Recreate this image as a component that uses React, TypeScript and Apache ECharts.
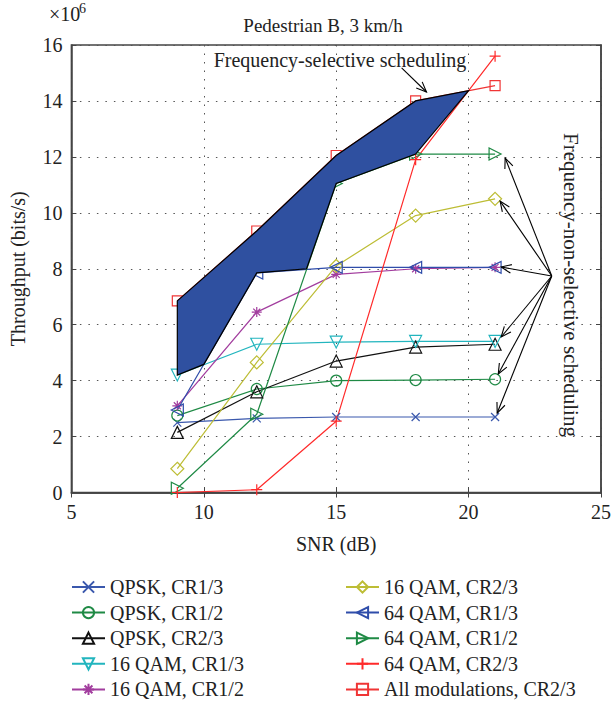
import React, { useEffect, useRef } from "react";
import * as echarts from "echarts";

// ---- data ----
const snr = [9, 12, 15, 18, 21];
const xTicks = [5, 10, 15, 20, 25];
const yTicks = [0, 2, 4, 6, 8, 10, 12, 14, 16];

const qpsk13 = [2.5, 2.65, 2.7, 2.7, 2.7];
const qpsk12 = [2.75, 3.7, 4.0, 4.02, 4.05];
const qpsk23 = [2.15, 3.6, 4.7, 5.2, 5.3];
const qam16r13 = [4.2, 5.3, 5.38, 5.4, 5.4];
const qam16r12 = [3.1, 6.45, 7.8, 8.0, 8.05];
const qam16r23 = [0.85, 4.65, 8.1, 9.9, 10.5];
const qam64r13 = [2.95, 7.85, 8.05, 8.05, 8.05];
const qam64r12 = [0.15, 2.8, 11.05, 12.1, 12.1];
const qam64r23 = [0.0, 0.1, 2.55, 11.9, 15.6];
const allMod23 = [6.85, 9.35, 12.05, 14.0, 14.55];

// filled region (frequency-selective gain) vertices
const regionX = [9, 12, 15, 18, 20, 18, 15, 13.88, 12, 10, 9];
const regionY = [6.85, 9.35, 12.05, 14.0, 14.37, 12.1, 11.05, 8.0, 7.85, 4.58, 4.2];

// annotation arrows: from -> to
const arrowFromX = [17.47, 23.14, 23.14, 23.14, 23.14, 23.14, 23.14];
const arrowFromY = [15.18, 7.74, 7.74, 7.74, 7.74, 7.74, 7.74];
const arrowToX = [18.41, 21.38, 21.19, 21.23, 21.23, 21.12, 21.08];
const arrowToY = [14.32, 11.96, 10.42, 8.06, 5.56, 4.24, 2.84];

const FONT = '"Liberation Serif", "DejaVu Serif", serif';
const TXT = "#222";

const SYM_X = "path://M0,0 L10,10 M10,0 L0,10";
const SYM_PLUS = "path://M5,0 L5,10 M0,5 L10,5";
const SYM_STAR = "path://M5,0 L5,10 M0,5 L10,5 M1.5,1.5 L8.5,8.5 M8.5,1.5 L1.5,8.5";
const SYM_UP = "path://M5,0 L10,9 L0,9 Z";
const SYM_DOWN = "path://M0,0 L10,0 L5,9 Z";
const SYM_LEFT = "path://M0,5 L9,0 L9,10 Z";
const SYM_RIGHT = "path://M9,5 L0,0 L0,10 Z";

const seriesDefs = [
  { name: "QPSK, CR1/3", data: qpsk13, color: "#3A58AD", symbol: SYM_X, size: 8 },
  { name: "QPSK, CR1/2", data: qpsk12, color: "#1F8A45", symbol: "circle", size: 11 },
  { name: "QPSK, CR2/3", data: qpsk23, color: "#111111", symbol: SYM_UP, size: 12 },
  { name: "16 QAM, CR1/3", data: qam16r13, color: "#22B5BE", symbol: SYM_DOWN, size: 12 },
  { name: "16 QAM, CR1/2", data: qam16r12, color: "#A23D9E", symbol: SYM_STAR, size: 10 },
  { name: "16 QAM, CR2/3", data: qam16r23, color: "#BDBD35", symbol: "diamond", size: 13 },
  { name: "64 QAM, CR1/3", data: qam64r13, color: "#2F4DAA", symbol: SYM_LEFT, size: 12 },
  { name: "64 QAM, CR1/2", data: qam64r12, color: "#1F8A45", symbol: SYM_RIGHT, size: 12 },
  { name: "64 QAM, CR2/3", data: qam64r23, color: "#FF2A2A", symbol: SYM_PLUS, size: 11 },
  { name: "All modulations, CR2/3", data: allMod23, color: "#F03535", symbol: "rect", size: 10 },
];

export default function App() {
  const ref = useRef<HTMLDivElement>(null);

  useEffect(() => {
    document.body.style.margin = "0";
    if (!ref.current) return;
    const chart = echarts.init(ref.current, null, { renderer: "svg" });

    const lineSeries = seriesDefs.map((s) => ({
      type: "line",
      name: s.name,
      data: snr.map((x, i) => [x, s.data[i]]),
      symbol: s.symbol,
      symbolSize: s.size,
      showAllSymbol: true,
      lineStyle: { color: s.color, width: 1.2 },
      itemStyle: { color: "rgba(0,0,0,0)", borderColor: s.color, borderWidth: 1.2 },
      emphasis: { disabled: true },
      z: 2,
    }));

    const regionSeries = {
      type: "custom",
      name: "region",
      coordinateSystem: "cartesian2d",
      silent: true,
      z: 4,
      data: [[regionX[0], regionY[0]]],
      renderItem: (_p: any, api: any) => ({
        type: "polygon",
        shape: { points: regionX.map((x, i) => api.coord([x, regionY[i]])) },
        style: { fill: "#2F50A0", stroke: "#000", lineWidth: 1.2 },
      }),
    };

    const arrowSeries = {
      type: "custom",
      name: "arrows",
      coordinateSystem: "cartesian2d",
      silent: true,
      z: 5,
      encode: { x: [0, 2], y: [1, 3] },
      data: arrowFromX.map((x, i) => [x, arrowFromY[i], arrowToX[i], arrowToY[i]]),
      renderItem: (_p: any, api: any) => {
        const p1 = api.coord([api.value(0), api.value(1)]);
        const p2 = api.coord([api.value(2), api.value(3)]);
        const ang = Math.atan2(p2[1] - p1[1], p2[0] - p1[0]);
        const L = 11;
        const a = 0.4;
        const h1 = [p2[0] - L * Math.cos(ang - a), p2[1] - L * Math.sin(ang - a)];
        const h2 = [p2[0] - L * Math.cos(ang + a), p2[1] - L * Math.sin(ang + a)];
        return {
          type: "group",
          children: [
            { type: "line", shape: { x1: p1[0], y1: p1[1], x2: p2[0], y2: p2[1] }, style: { stroke: "#000", lineWidth: 1.1 } },
            { type: "polyline", shape: { points: [h1, p2, h2] }, style: { stroke: "#000", fill: "none", lineWidth: 1.1 } },
          ],
        };
      },
    };

    const legendCommon = {
      orient: "vertical",
      itemWidth: 33,
      itemHeight: 14,
      itemGap: 5.6,
      height: 150,
      padding: 0,
      selectedMode: false,
      textStyle: { fontFamily: FONT, fontSize: 20, color: TXT },
    };

    const splitStyle = { show: true, lineStyle: { color: "#555", width: 1, type: [1.5, 7] } };

    chart.setOption({
      animation: false,
      backgroundColor: "#fff",
      grid: { left: 71.4, right: 10.4, top: 45, bottom: 215.5, show: true, borderColor: "#444", borderWidth: 1.5, backgroundColor: "transparent" },
      legend: [
        { ...legendCommon, left: 71, top: 577, data: seriesDefs.slice(0, 5).map((s) => s.name) },
        { ...legendCommon, left: 345, top: 577, data: seriesDefs.slice(5).map((s) => s.name) },
      ],
      xAxis: [
        {
          type: "value",
          min: xTicks[0],
          max: xTicks[xTicks.length - 1],
          interval: 5,
          position: "bottom",
          name: "SNR (dB)",
          nameLocation: "middle",
          nameGap: 41,
          nameTextStyle: { fontFamily: FONT, fontSize: 20, color: TXT },
          axisLine: { show: true, lineStyle: { color: "#444", width: 1.5 } },
          axisTick: { show: true, inside: true, length: 5, lineStyle: { color: "#444" } },
          axisLabel: { fontFamily: FONT, fontSize: 20, color: TXT, margin: 9, showMinLabel: true, showMaxLabel: true },
          splitLine: splitStyle,
        },
        {
          type: "value",
          min: xTicks[0],
          max: xTicks[xTicks.length - 1],
          interval: 5,
          position: "top",
          axisLine: { show: true, lineStyle: { color: "#444", width: 1.5 } },
          axisTick: { show: true, inside: true, length: 5, lineStyle: { color: "#444" } },
          axisLabel: { show: false },
          splitLine: { show: false },
        },
      ],
      yAxis: [
        {
          type: "value",
          min: yTicks[0],
          max: yTicks[yTicks.length - 1],
          interval: 2,
          position: "left",
          name: "Throughput (bits/s)",
          nameLocation: "middle",
          nameGap: 43,
          nameTextStyle: { fontFamily: FONT, fontSize: 20, color: TXT },
          axisLine: { show: true, lineStyle: { color: "#444", width: 1.5 } },
          axisTick: { show: true, inside: true, length: 5, lineStyle: { color: "#444" } },
          axisLabel: { fontFamily: FONT, fontSize: 20, color: TXT, margin: 9 },
          splitLine: splitStyle,
        },
        {
          type: "value",
          min: yTicks[0],
          max: yTicks[yTicks.length - 1],
          interval: 2,
          position: "right",
          axisLine: { show: true, lineStyle: { color: "#444", width: 1.5 } },
          axisTick: { show: true, inside: true, length: 5, lineStyle: { color: "#444" } },
          axisLabel: { show: false },
          splitLine: { show: false },
        },
      ],
      graphic: [
        { type: "text", left: 49, top: 4, style: { text: "×10", font: `20px ${FONT}`, fill: TXT } },
        { type: "text", left: 79, top: 1, style: { text: "6", font: `14px ${FONT}`, fill: TXT } },
        { type: "text", x: 323, y: 25, style: { text: "Pedestrian B, 3 km/h", font: `19px ${FONT}`, fill: TXT, align: "center", verticalAlign: "middle" } },
        { type: "text", x: 340, y: 60, z: 10, style: { text: "Frequency-selective scheduling", font: `20px ${FONT}`, fill: TXT, align: "center", verticalAlign: "middle" } },
        { type: "text", x: 571, y: 285, rotation: -Math.PI / 2, z: 10, style: { text: "Frequency-non-selective scheduling", font: `21px ${FONT}`, fill: TXT, align: "center", verticalAlign: "middle" } },
      ],
      series: [...lineSeries, regionSeries, arrowSeries],
    });

    return () => chart.dispose();
  }, []);

  return <div ref={ref} style={{ width: 614, height: 708 }} />;
}
